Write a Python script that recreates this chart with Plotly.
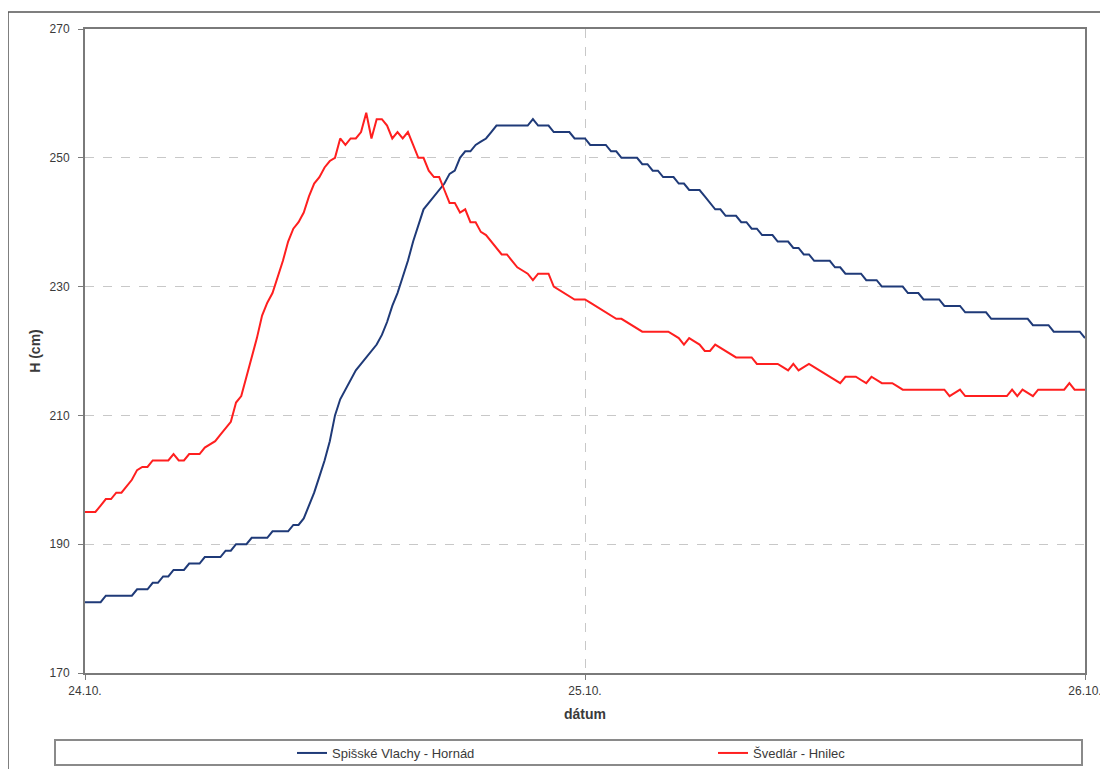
import pandas as pd
import plotly.graph_objects as go

# 15-minute samples from 24.10. 00:00 to 26.10. 00:00
times = pd.date_range("2010-10-24 00:00", periods=193, freq="15min")

spisske_vlachy_hornad = [
    181, 181, 181, 181, 182, 182, 182, 182, 182, 182,
    183, 183, 183, 184, 184, 185, 185, 186, 186, 186,
    187, 187, 187, 188, 188, 188, 188, 189, 189, 190,
    190, 190, 191, 191, 191, 191, 192, 192, 192, 192,
    193, 193, 194, 196, 198, 200.5, 203, 206, 210, 212.5,
    214, 215.5, 217, 218, 219, 220, 221, 222.5, 224.5, 227,
    229, 231.5, 234, 237, 239.5, 242, 243, 244, 245, 246,
    247.5, 248, 250, 251, 251, 252, 252.5, 253, 254, 255,
    255, 255, 255, 255, 255, 255, 256, 255, 255, 255,
    254, 254, 254, 254, 253, 253, 253, 252, 252, 252,
    252, 251, 251, 250, 250, 250, 250, 249, 249, 248,
    248, 247, 247, 247, 246, 246, 245, 245, 245, 244,
    243, 242, 242, 241, 241, 241, 240, 240, 239, 239,
    238, 238, 238, 237, 237, 237, 236, 236, 235, 235,
    234, 234, 234, 234, 233, 233, 232, 232, 232, 232,
    231, 231, 231, 230, 230, 230, 230, 230, 229, 229,
    229, 228, 228, 228, 228, 227, 227, 227, 227, 226,
    226, 226, 226, 226, 225, 225, 225, 225, 225, 225,
    225, 225, 224, 224, 224, 224, 223, 223, 223, 223,
    223, 223, 222,
]

svedlar_hnilec = [
    195, 195, 195, 196, 197, 197, 198, 198, 199, 200,
    201.5, 202, 202, 203, 203, 203, 203, 204, 203, 203,
    204, 204, 204, 205, 205.5, 206, 207, 208, 209, 212,
    213, 216, 219, 222, 225.5, 227.5, 229, 231.5, 234, 237,
    239, 240, 241.5, 244, 246, 247, 248.5, 249.5, 250, 253,
    252, 253, 253, 254, 257, 253, 256, 256, 255, 253,
    254, 253, 254, 252, 250, 250, 248, 247, 247, 245,
    243, 243, 241.5, 242, 240, 240, 238.5, 238, 237, 236,
    235, 235, 234, 233, 232.5, 232, 231, 232, 232, 232,
    230, 229.5, 229, 228.5, 228, 228, 228, 227.5, 227, 226.5,
    226, 225.5, 225, 225, 224.5, 224, 223.5, 223, 223, 223,
    223, 223, 223, 222.5, 222, 221, 222, 221.5, 221, 220,
    220, 221, 220.5, 220, 219.5, 219, 219, 219, 219, 218,
    218, 218, 218, 218, 217.5, 217, 218, 217, 217.5, 218,
    217.5, 217, 216.5, 216, 215.5, 215, 216, 216, 216, 215.5,
    215, 216, 215.5, 215, 215, 215, 214.5, 214, 214, 214,
    214, 214, 214, 214, 214, 214, 213, 213.5, 214, 213,
    213, 213, 213, 213, 213, 213, 213, 213, 214, 213,
    214, 213.5, 213, 214, 214, 214, 214, 214, 214, 215,
    214, 214, 214,
]

series_names = ["Spišské Vlachy - Hornád", "Švedlár - Hnilec"]
series_colors = ["#1f3a78", "#ff1f1f"]

tick_dates = ["2010-10-24 00:00", "2010-10-25 00:00", "2010-10-26 00:00"]
tick_labels = ["24.10.", "25.10.", "26.10."]
y_ticks = [170, 190, 210, 230, 250, 270]

# page body has an 8 px margin; target coordinates are in window pixels
OFF = 8
L, R, T, B = 85, 1085, 29, 673
W, H = 1108 - OFF, 769 - OFF
pw, ph = R - L, B - T


def px(x):
    return (x - L) / pw


def py(y):
    return (B - y) / ph


TXT = "#3a3a3a"

fig = go.Figure()
legend_ids = ["legend", "legend2"]
for name, vals, col, lg in zip(series_names, [spisske_vlachy_hornad, svedlar_hnilec],
                               series_colors, legend_ids):
    fig.add_trace(go.Scatter(x=times, y=vals, mode="lines", name=name,
                             line=dict(color=col, width=2), legend=lg))

legend_common = dict(orientation="h", xanchor="left", yanchor="middle",
                     font=dict(size=13, color=TXT), bgcolor="rgba(0,0,0,0)",
                     itemwidth=30, borderwidth=0)

fig.update_layout(
    width=W, height=H,
    margin=dict(l=L - OFF, r=W - (R - OFF), t=T - OFF, b=H - (B - OFF), autoexpand=False),
    paper_bgcolor="white", plot_bgcolor="white",
    font=dict(family="Liberation Sans, Arial, sans-serif", size=12, color=TXT),
    showlegend=True,
    legend=dict(x=px(292), y=py(753), **legend_common),
    legend2=dict(x=px(713), y=py(753), **legend_common),
    shapes=[
        dict(type="rect", xref="paper", yref="paper",
             x0=px(8), x1=px(1250), y0=py(900), y1=py(12),
             line=dict(color="#555555", width=1.5), layer="below"),
        dict(type="rect", xref="paper", yref="paper",
             x0=px(55), x1=px(1082), y0=py(765), y1=py(740),
             line=dict(color="#8a8a8a", width=2), layer="below"),
    ],
)

fig.update_xaxes(
    range=[tick_dates[0], tick_dates[-1]],
    tickmode="array", tickvals=tick_dates, ticktext=tick_labels,
    showgrid=True, gridcolor="#c8c8c8", griddash="dash", gridwidth=1,
    showline=True, linecolor="#7a7a7a", linewidth=2, mirror=True,
    ticks="outside", ticklen=5, tickcolor="#7a7a7a", ticklabelstandoff=1,
    tickfont=dict(size=12, color=TXT),
    title=dict(text="<b>dátum</b>", font=dict(size=14, color=TXT), standoff=12),
    zeroline=False, automargin=False,
)
fig.update_yaxes(
    range=[170, 270], tickvals=y_ticks,
    showgrid=True, gridcolor="#c8c8c8", griddash="dash", gridwidth=1,
    showline=True, linecolor="#7a7a7a", linewidth=2, mirror=True,
    ticks="outside", ticklen=5, tickcolor="#7a7a7a", ticklabelstandoff=6,
    tickfont=dict(size=12, color=TXT),
    title=dict(text="<b>H (cm)</b>", font=dict(size=14, color=TXT), standoff=6),
    zeroline=False, automargin=False,
)

fig.write_html("out.html")
